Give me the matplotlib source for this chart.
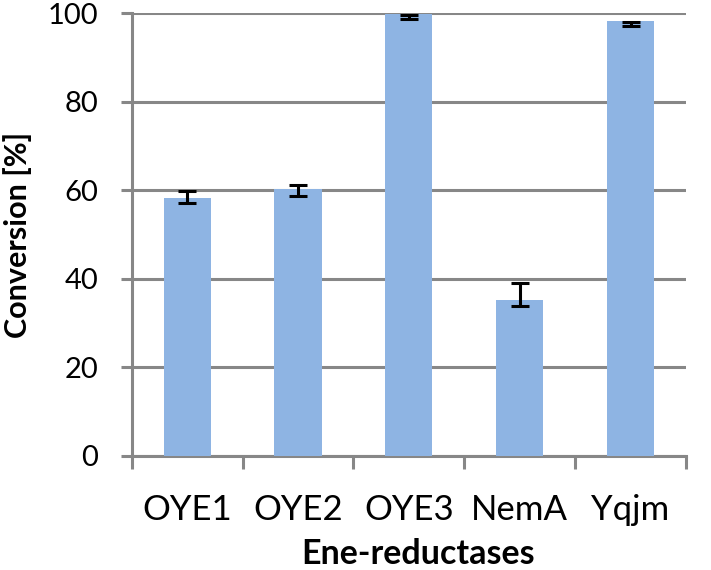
import matplotlib
matplotlib.use("Agg")
import matplotlib.pyplot as plt
import numpy as np

categories = ["OYE1", "OYE2", "OYE3", "NemA", "Yqjm"]
conversion = [58.2, 60.2, 99.7, 35.2, 98.2]
err_center = [58.45, 59.95, 99.15, 36.45, 97.5]
err_half = [1.45, 1.15, 0.45, 2.55, 0.5]
yticks = [0, 20, 40, 60, 80, 100]

plt.rcParams['font.family'] = ['Lato', 'DejaVu Sans']

W, H = 711, 570
fig = plt.figure(figsize=(W / 100, H / 100), dpi=100)
left, right, top, bottom = 131.7, 686, 13, 456
ax = fig.add_axes([left / W, 1 - bottom / H, (right - left) / W, (bottom - top) / H])

gray = '#878787'
x = np.arange(len(categories))
ax.bar(x, conversion, width=0.425, color='#8EB4E3', zorder=3)
ax.errorbar(x, err_center, yerr=err_half, fmt='none', ecolor='black',
            elinewidth=2.2, capsize=6.8, capthick=2.2, zorder=4)

ax.set_xlim(-0.5, len(categories) - 0.5)
ax.set_ylim(0, 100)
ax.set_yticks(yticks)
ax.set_yticklabels([str(v) for v in yticks], fontsize=21)
ax.yaxis.grid(True, color=gray, linewidth=2.2, zorder=0)
ax.set_axisbelow(True)

ax.set_xticks(np.arange(-0.5, len(categories), 1.0))
ax.set_xticklabels([])
ax.set_xticks(x, minor=True)
ax.set_xticklabels(categories, minor=True, fontsize=25)
ax.tick_params(axis='x', which='major', length=9.5, width=2.2, color=gray, direction='out')
ax.tick_params(axis='x', which='minor', length=0, pad=27)
ax.tick_params(axis='y', length=8, width=2.2, color=gray, direction='out', pad=16)

for s in ['top', 'right']:
    ax.spines[s].set_visible(False)
for s in ['left', 'bottom']:
    ax.spines[s].set_color(gray)
    ax.spines[s].set_linewidth(2.2)

fig.text(18 / W, 1 - 235 / H, 'Conversion [%]', rotation=90, ha='center', va='center',
         fontsize=22, fontweight='bold')
fig.text(418.5 / W, 1 - 554 / H, 'Ene-reductases', ha='center', va='center',
         fontsize=24.5, fontweight='bold')

fig.savefig('out.png', dpi=100)
